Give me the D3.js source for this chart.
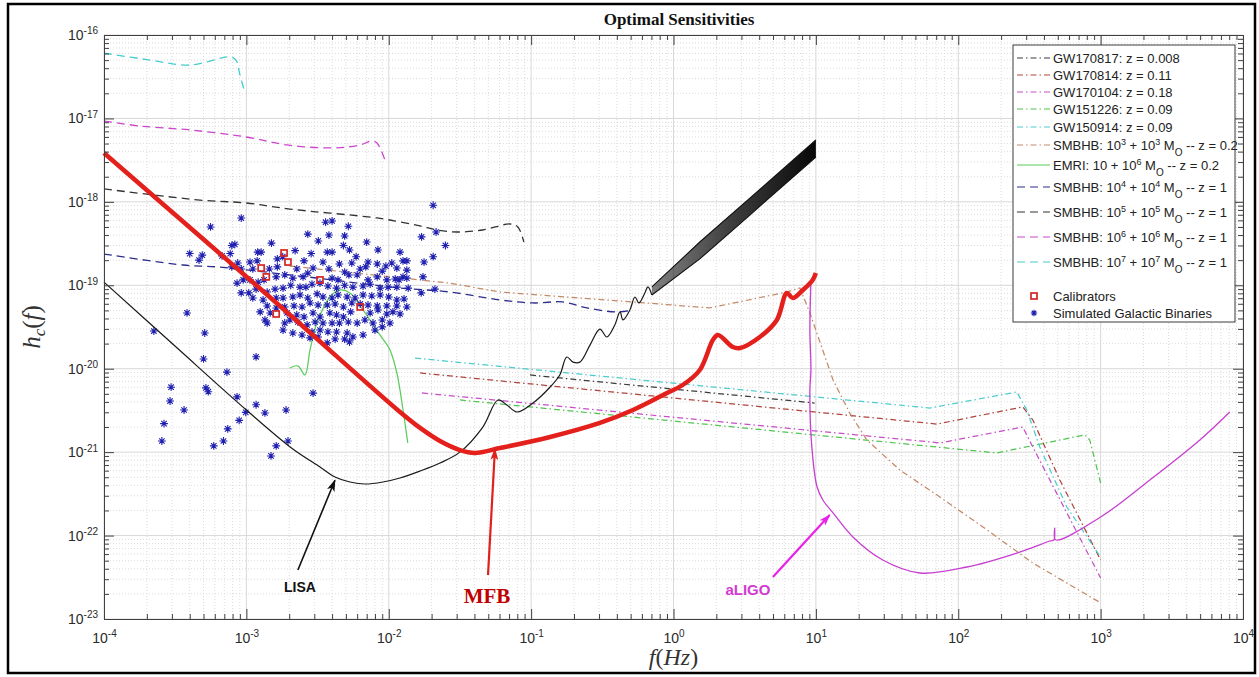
<!DOCTYPE html>
<html>
<head>
<meta charset="utf-8">
<script src="https://cdn.jsdelivr.net/npm/d3@7"></script>
<style>
  body { margin: 0; background: #fff; }
  text { font-family: "Liberation Sans", Arial, sans-serif; white-space: pre; }
</style>
</head>
<body>
<div id="chart"></div>
<script>
// ---- data: [frequency (Hz), characteristic strain] ----

const xDecades = [1e-4, 1e-3, 1e-2, 1e-1, 1e0, 1e1, 1e2, 1e3, 1e4];
const yDecades = [1e-23, 1e-22, 1e-21, 1e-20, 1e-19, 1e-18, 1e-17, 1e-16];

const gw170817 = [[9.82e-2, 8.41e-21], [9.8, 3.88e-21]];
const gw170814 = [[1.66e-2, 8.89e-21], [70.8, 2.17e-21], [284, 3.48e-21], [334, 2.43e-21], [517, 4.64e-22], [1000, 5.09e-23]];
const gw170104 = [[1.71e-2, 5.12e-21], [74.3, 1.29e-21], [284, 2.0e-21], [334, 1.15e-21], [579, 1.87e-22], [1000, 3.1e-23]];
const gw151226 = [[3.16e-2, 4.22e-21], [187, 9.77e-22], [774, 1.61e-21], [839, 1.4e-21], [1000, 4.27e-22]];
const gw150914 = [[1.53e-2, 1.34e-20], [63.2, 3.38e-21], [258, 5.26e-21], [303, 3.2e-21], [374, 1.15e-21], [579, 2.2e-22], [1000, 5.53e-23]];

const smbhb3 = [[2.02e-3, 1.7e-19], [2.69e-2, 1.06e-19], [6.04e-2, 8.31e-20], [0.519, 6.31e-20], [1.8, 5.35e-20],
  [6.25, 8.31e-20], [7.72, 9.29e-20], [9.08, 4.66e-20], [13.2, 7.33e-21], [17.3, 2.94e-21], [22.8, 1.4e-21],
  [38.9, 6.1e-22], [74.3, 2.9e-22], [149, 1.27e-22], [334, 4.69e-23], [1000, 1.56e-23]];
const emri = [[2.02e-3, 1.02e-20], [2.3e-3, 1.08e-20], [2.58e-3, 8.41e-21], [2.8e-3, 1.68e-20], [3.13e-3, 3.53e-20],
  [3.86e-3, 7.24e-20], [4.54e-3, 8.79e-20], [5.34e-3, 8.09e-20], [6.59e-3, 5.06e-20], [8.67e-3, 2.54e-20],
  [1.02e-2, 1.68e-20], [1.14e-2, 8.89e-21], [1.26e-2, 3.2e-21], [1.36e-2, 1.29e-21]];
const smbhb4 = [[1e-4, 2.37e-19], [3.59e-4, 1.75e-19], [6.23e-4, 1.66e-19], [2.38e-3, 1.29e-19], [1.2e-2, 9.29e-20],
  [2.69e-2, 8.31e-20], [6.04e-2, 6.67e-20], [0.103, 6.14e-20], [0.167, 6.31e-20], [0.247, 5.35e-20],
  [0.401, 4.79e-20], [0.519, 5.06e-20]];
const smbhb5 = [[1e-4, 1.43e-18], [4.72e-4, 1.05e-18], [1e-3, 9.69e-19], [2.02e-3, 8.2e-19], [8.26e-3, 6.41e-19],
  [1.2e-2, 5.74e-19], [1.66e-2, 5.14e-19], [2.18e-2, 4.6e-19], [3.01e-2, 4.35e-19], [4.58e-2, 4.6e-19],
  [7.1e-2, 5.43e-19], [8.07e-2, 5.0e-19], [8.89e-2, 3.3e-19]];
const smbhb6 = [[1e-4, 9.31e-18], [1.79e-4, 8.11e-18], [4.02e-4, 7.27e-18], [1e-3, 5.99e-18], [1.93e-3, 4.81e-18],
  [4.06e-3, 4.43e-18], [6.28e-3, 4.81e-18], [7.62e-3, 5.36e-18], [8.26e-3, 5.08e-18], [9.4e-3, 3.18e-18]];
const smbhb7 = [[1e-4, 6.08e-17], [2.1e-4, 5.01e-17], [4.02e-4, 4.37e-17], [7.67e-4, 5.45e-17], [8.45e-4, 5.01e-17],
  [9.01e-4, 3.32e-17], [9.77e-4, 2.02e-17]];

// detector curves
const mfbCurve = [[1e-4, 3.85e-18], [1.54e-3, 6.67e-20], [1.2e-2, 3.03e-21], [1.66e-2, 1.95e-21], [2.29e-2, 1.36e-21],
  [3.16e-2, 1.06e-21], [4.03e-2, 9.8e-22], [6.04e-2, 1.12e-21], [0.136, 1.52e-21], [0.304, 2.24e-21],
  [0.519, 3.2e-21], [0.9, 5.12e-21], [1.16, 6.38e-21], [1.53, 9.66e-21], [1.89, 2.21e-20], [2.05, 2.54e-20],
  [2.61, 1.82e-20], [2.93, 1.77e-20], [4.04, 2.4e-20], [5.32, 3.84e-20], [6.25, 8.09e-20], [6.89, 7.05e-20],
  [8.11, 8.79e-20], [9.5, 1.16e-19], [10, 1.4e-19]];
const lisaCurve = [[1e-4, 1.09e-19], [3.15e-4, 1.87e-20], [1e-3, 3.2e-21], [2.12e-3, 1.09e-21], [3.29e-3, 6.64e-22],
  [4.19e-3, 5.04e-22], [5.34e-3, 4.39e-22], [6.81e-3, 4.15e-22], [9.1e-3, 4.39e-22], [1.2e-2, 4.9e-22],
  [1.66e-2, 5.94e-22], [2.29e-2, 7.41e-22], [3.16e-2, 1.0e-21], [4.58e-2, 2.0e-21], [5.85e-2, 4.22e-21],
  [6.76e-2, 3.67e-21], [7.94e-2, 3.03e-21], [0.103, 3.88e-21], [0.136, 6.04e-21], [0.159, 8.41e-21],
  [0.178, 1.38e-20], [0.197, 1.2e-20], [0.22, 1.2e-20], [0.259, 1.92e-20], [0.304, 2.99e-20], [0.34, 2.4e-20],
  [0.387, 3.34e-20], [0.421, 4.79e-20], [0.442, 3.84e-20], [0.494, 5.06e-20], [0.536, 7.24e-20],
  [0.571, 6.14e-20], [0.629, 8.09e-20], [0.661, 9.55e-20], [0.705, 7.65e-20]];
// dense oscillating tail of LISA: [f, lower envelope, upper envelope]
const lisaBand = [[0.705, 7.65e-20, 9.55e-20], [1.53, 2.07e-19, 3.3e-19], [3.44, 6.95e-19, 1.11e-18], [10, 3.45e-18, 5.51e-18]];
const aligoCurve = [[9.23, 1.09e-19], [9.08, 2.91e-20], [9.23, 9.66e-21], [9.08, 5.56e-21], [9.37, 1.15e-21],
  [10.2, 3.82e-22], [11.2, 2.67e-22], [13.2, 1.87e-22], [18.2, 9.62e-23], [29.5, 5.09e-23], [53.7, 3.56e-23],
  [115, 4.2e-23], [258, 6.18e-23], [440, 8.61e-23], [470, 8.9e-23], [476, 1.23e-22], [482, 8.9e-23],
  [1000, 1.67e-22], [2218, 4.64e-22], [4977, 1.4e-21], [8072, 3.03e-21]];

const calibrators = [[1.84e-3, 2.44e-19], [1.96e-3, 1.9e-19], [1.27e-3, 1.61e-19], [1.38e-3, 1.26e-19],
  [3.29e-3, 1.16e-19], [6.3e-3, 5.5e-20], [1.62e-3, 4.53e-20]];

const galacticBinaries = [
  [9.2e-4, 6.4e-19], [5.6e-4, 5.0e-19], [2.05e-2, 9.1e-19], [4.0e-3, 5.9e-19], [3.6e-3, 5.7e-19], [5.2e-3, 5.1e-19],
  [2.7e-3, 4.1e-19], [3.8e-3, 4.0e-19], [3.2e-3, 3.4e-19], [4.9e-3, 3.9e-19], [7.0e-3, 3.3e-19], [1.7e-2, 3.8e-19],
  [2.15e-2, 4.35e-19], [2.5e-2, 3.0e-19], [1.5e-3, 3.2e-19], [7.9e-4, 3.0e-19], [8.3e-4, 3.1e-19], [4.0e-4, 2.4e-19],
  [4.9e-4, 2.3e-19], [4.65e-4, 2.0e-19], [6.75e-4, 2.25e-19], [7.7e-4, 2.4e-19], [1.2e-3, 2.5e-19], [1.27e-3, 2.5e-19],
  [2.2e-3, 2.6e-19], [2.85e-3, 2.4e-19], [3.7e-3, 2.5e-19], [4.0e-3, 2.5e-19], [4.8e-3, 3.0e-19], [5.3e-3, 2.65e-19],
  [8.4e-3, 2.65e-19], [1.2e-2, 2.5e-19], [2.05e-2, 2.2e-19], [1.77e-2, 1.9e-19], [8.7e-4, 1.85e-19], [1.06e-3, 1.9e-19],
  [1.19e-3, 1.96e-19], [1.65e-3, 2.07e-19], [1.8e-3, 2.2e-19], [2.54e-3, 1.96e-19], [3.45e-3, 1.9e-19], [4.5e-3, 1.8e-19],
  [5.5e-3, 1.85e-19], [5.9e-3, 2.2e-19], [7.15e-3, 1.9e-19], [8.3e-3, 1.8e-19], [9.55e-3, 1.7e-19], [1.05e-2, 1.85e-19],
  [1.26e-2, 1.96e-19], [1.34e-2, 1.96e-19], [7.9e-4, 1.66e-19], [9.2e-4, 1.57e-19], [1.11e-3, 1.57e-19], [1.45e-3, 1.57e-19],
  [1.65e-3, 1.66e-19], [2.26e-3, 1.57e-19], [2.94e-3, 1.61e-19], [3.8e-3, 1.57e-19], [4.9e-3, 1.44e-19], [6.3e-3, 1.57e-19],
  [6.9e-3, 1.66e-19], [9.0e-3, 1.48e-19], [1.14e-2, 1.61e-19], [1.34e-2, 1.52e-19], [1.74e-2, 1.26e-19], [1.26e-2, 1.26e-19],
  [8.6e-4, 1.06e-19], [9.5e-4, 1.16e-19], [1.06e-3, 1.16e-19], [1.21e-3, 1.09e-19], [1.33e-3, 1.16e-19], [1.62e-3, 1.26e-19],
  [1.86e-3, 1.33e-19], [2.12e-3, 1.22e-19], [2.5e-3, 1.26e-19], [2.7e-3, 1.4e-19], [4.0e-3, 1.22e-19], [4.4e-3, 1.16e-19],
  [5.25e-3, 1.33e-19], [6.0e-3, 1.33e-19], [7.15e-3, 1.16e-19], [8.3e-3, 1.26e-19], [9.7e-3, 1.16e-19], [1.11e-2, 1.19e-19],
  [1.18e-2, 1.16e-19], [1.34e-2, 1.22e-19], [2.11e-2, 9.0e-20], [1.69e-2, 8.1e-20], [9.2e-4, 8.1e-20], [1.04e-3, 8.1e-20],
  [1.17e-3, 9.0e-20], [1.4e-3, 8.3e-20], [1.59e-3, 9.0e-20], [1.81e-3, 9.25e-20], [2.05e-3, 1.0e-19], [2.38e-3, 9.5e-20],
  [2.62e-3, 9.5e-20], [2.89e-3, 1.03e-19], [3.29e-3, 1.06e-19], [3.74e-3, 9.8e-20], [4.3e-3, 9.25e-20], [4.9e-3, 1.0e-19],
  [5.6e-3, 9.5e-20], [6.6e-3, 9.8e-20], [7.4e-3, 1.03e-19], [8.7e-3, 9.25e-20], [9.9e-3, 9.5e-20], [1.14e-2, 9.5e-20],
  [1.37e-2, 9.25e-20], [1.11e-3, 7.05e-20], [1.31e-3, 6.67e-20], [1.62e-3, 7.05e-20], [1.81e-3, 7.05e-20], [2.12e-3, 7.24e-20],
  [2.38e-3, 7.65e-20], [2.7e-3, 7.05e-20], [3.14e-3, 7.9e-20], [3.45e-3, 7.24e-20], [4.0e-3, 7.05e-20], [4.4e-3, 7.65e-20],
  [5.1e-3, 7.24e-20], [5.8e-3, 7.05e-20], [6.6e-3, 7.65e-20], [7.6e-3, 7.45e-20], [8.7e-3, 7.65e-20], [1.0e-2, 7.24e-20],
  [1.14e-2, 6.67e-20], [1.28e-2, 6.86e-20], [1.4e-3, 5.65e-20], [1.62e-3, 5.35e-20], [1.86e-3, 5.5e-20], [2.16e-3, 5.65e-20],
  [2.46e-3, 5.5e-20], [2.8e-3, 6.14e-20], [3.19e-3, 5.8e-20], [3.7e-3, 5.8e-20], [4.2e-3, 5.97e-20], [4.8e-3, 5.5e-20],
  [5.5e-3, 6.14e-20], [6.3e-3, 5.97e-20], [7.15e-3, 5.8e-20], [8.3e-3, 5.65e-20], [9.7e-3, 5.65e-20], [1.14e-2, 5.65e-20],
  [1.34e-2, 5.5e-20], [1.25e-3, 4.8e-20], [1.47e-3, 4.66e-20], [1.93e-3, 4.66e-20], [2.26e-3, 4.41e-20], [2.54e-3, 4.17e-20],
  [2.94e-3, 4.66e-20], [3.29e-3, 4.17e-20], [3.86e-3, 4.66e-20], [4.3e-3, 4.41e-20], [4.8e-3, 4.17e-20], [5.4e-3, 4.8e-20],
  [7.4e-3, 4.66e-20], [8.4e-3, 5.06e-20], [9.7e-3, 4.53e-20], [1.07e-2, 4.8e-20], [1.2e-2, 4.53e-20], [1.35e-3, 3.84e-20],
  [1.4e-3, 3.53e-20], [1.86e-3, 3.53e-20], [2.02e-3, 3.84e-20], [2.3e-3, 3.63e-20], [2.67e-3, 3.35e-20], [3.04e-3, 3.63e-20],
  [3.45e-3, 3.53e-20], [4.0e-3, 3.53e-20], [4.5e-3, 3.53e-20], [5.2e-3, 3.63e-20], [6.0e-3, 3.53e-20], [6.8e-3, 3.84e-20],
  [7.75e-3, 3.53e-20], [9.0e-3, 3.84e-20], [1.02e-2, 3.53e-20], [1.81e-3, 2.91e-20], [2.12e-3, 2.68e-20], [2.46e-3, 2.54e-20],
  [2.89e-3, 2.76e-20], [3.29e-3, 2.91e-20], [3.74e-3, 2.76e-20], [4.3e-3, 2.76e-20], [5.1e-3, 2.68e-20], [5.6e-3, 2.4e-20],
  [6.6e-3, 2.54e-20], [8.0e-3, 2.91e-20], [9.0e-3, 3.17e-20], [2.8e-3, 2.34e-20], [3.19e-3, 2.4e-20], [3.7e-3, 2.04e-20],
  [4.2e-3, 2.27e-20], [4.9e-3, 2.27e-20], [5.3e-3, 2.09e-20],
  // scattered low-strain binaries
  [2.24e-4, 2.83e-20], [3.83e-4, 4.66e-20], [5.1e-4, 2.68e-20], [5.0e-4, 1.31e-20], [7.3e-4, 9.1e-21], [1.17e-3, 1.39e-20],
  [2.96e-4, 6.0e-21], [2.91e-4, 4.1e-21], [3.65e-4, 3.2e-21], [2.64e-4, 2.2e-21], [2.55e-4, 1.36e-21], [5.2e-4, 5.9e-21],
  [5.4e-4, 5.3e-21], [8.6e-4, 4.6e-21], [9.9e-4, 3.0e-21], [1.17e-3, 3.7e-21], [1.35e-3, 2.95e-21], [1.9e-3, 3.2e-21],
  [8.9e-4, 2.4e-21], [7.4e-4, 1.9e-21], [6.9e-4, 1.36e-21], [5.9e-4, 1.19e-21], [1.62e-3, 1.19e-21], [1.96e-3, 1.36e-21],
  [1.49e-3, 9.0e-22], [2.94e-3, 5.1e-21]
];

// annotations: [f, h] of arrow tail, arrow tip and label
const annotations = [
  { label: "LISA", color: "#111", arrowColor: "#111", font: "bold 14px 'Liberation Sans'", tail: [2.3e-3, 3.87e-23], tip: [4.19e-3, 4.6e-22], at: [2.38e-3, 2.1e-23] },
  { label: "MFB", color: "#c00000", arrowColor: "#e0201c", font: "bold 21px 'Liberation Serif'", tail: [4.98e-2, 3.37e-23], tip: [5.57e-2, 1.09e-21], at: [4.9e-2, 1.56e-23] },
  { label: "aLIGO", color: "#d23bd2", arrowColor: "#e822e8", font: "bold 15px 'Liberation Sans'", tail: [4.99, 3.19e-23], tip: [12.5, 1.77e-22], at: [3.33, 1.94e-23] }
];

// ---- styles and legend ----
const dashDot = "6,3,1.5,3";
const dashed = "8,5";
const seriesStyles = [
  { data: gw170817, label: "GW170817: z = 0.008", color: "#3c3c3c", dash: dashDot },
  { data: gw170814, label: "GW170814: z = 0.11", color: "#b0443c", dash: dashDot },
  { data: gw170104, label: "GW170104: z = 0.18", color: "#c64ec6", dash: dashDot },
  { data: gw151226, label: "GW151226: z = 0.09", color: "#52c452", dash: dashDot },
  { data: gw150914, label: "GW150914: z = 0.09", color: "#4ccccc", dash: dashDot },
  { data: smbhb3, label: "SMBHB: 10^{3} + 10^{3} M_{O} -- z = 0.2", color: "#c48a68", dash: dashDot },
  { data: emri, label: "EMRI: 10 + 10^{6} M_{O} -- z = 0.2", color: "#5acc5a", dash: null },
  { data: smbhb4, label: "SMBHB: 10^{4} + 10^{4} M_{O} -- z = 1", color: "#2c2c8c", dash: dashed },
  { data: smbhb5, label: "SMBHB: 10^{5} + 10^{5} M_{O} -- z = 1", color: "#333333", dash: dashed },
  { data: smbhb6, label: "SMBHB: 10^{6} + 10^{6} M_{O} -- z = 1", color: "#cc46cc", dash: dashed },
  { data: smbhb7, label: "SMBHB: 10^{7} + 10^{7} M_{O} -- z = 1", color: "#46cccc", dash: dashed }
];
const legendRows = [58, 75, 92, 109, 127, 145, 165, 187, 212, 237, 262, 296, 313];

const svgWidth = 1259;
const svgHeight = 677;
const margin = { top: 35, right: 16, bottom: 58, left: 104 };
const width = svgWidth - margin.left - margin.right;
const height = svgHeight - margin.top - margin.bottom;

const svg = d3.select("#chart")
  .append("svg")
  .attr("width", svgWidth)
  .attr("height", svgHeight);

// outer frame of the figure
svg.append("rect")
  .attr("x", 8).attr("y", 4)
  .attr("width", 1247).attr("height", 669)
  .attr("fill", "#fff").attr("stroke", "#000").attr("stroke-width", 2.5);

const chart = svg.append("g")
  .attr("transform", `translate(${margin.left}, ${margin.top})`);

const x = d3.scaleLog().domain([1e-4, 1e4]).range([0, width]);
const y = d3.scaleLog().domain([1e-23, 1e-16]).range([height, 0]);

const isDecade = v => Math.abs(Math.log10(v) - Math.round(Math.log10(v))) < 1e-6;
const xMinor = x.ticks().filter(v => !isDecade(v));
const yMinor = y.ticks().filter(v => !isDecade(v));

// grid
const grid = chart.append("g");
grid.selectAll(".gx-minor").data(xMinor).enter().append("line")
  .attr("x1", d => x(d)).attr("x2", d => x(d)).attr("y1", 0).attr("y2", height)
  .attr("stroke", "#dcdcdc").attr("stroke-dasharray", "1,2");
grid.selectAll(".gy-minor").data(yMinor).enter().append("line")
  .attr("y1", d => y(d)).attr("y2", d => y(d)).attr("x1", 0).attr("x2", width)
  .attr("stroke", "#dcdcdc").attr("stroke-dasharray", "1,2");
grid.selectAll(".gx").data(xDecades).enter().append("line")
  .attr("x1", d => x(d)).attr("x2", d => x(d)).attr("y1", 0).attr("y2", height)
  .attr("stroke", "#d8d8d8");
grid.selectAll(".gy").data(yDecades).enter().append("line")
  .attr("y1", d => y(d)).attr("y2", d => y(d)).attr("x1", 0).attr("x2", width)
  .attr("stroke", "#d8d8d8");

const line = d3.line().x(d => x(d[0])).y(d => y(d[1]));
const smooth = d3.line().x(d => x(d[0])).y(d => y(d[1])).curve(d3.curveCatmullRom.alpha(0.5));

// source curves
seriesStyles.forEach(s => {
  chart.append("path")
    .datum(s.data)
    .attr("d", s.dash === dashDot ? line : smooth)
    .attr("fill", "none")
    .attr("stroke", s.color)
    .attr("stroke-width", s.dash === dashed ? 1.3 : 1.25)
    .attr("stroke-dasharray", s.dash);
});

// asterisk marker like matlab '*'
const starPath = r => `M${-r},0H${r}M0,${-r}V${r}M${-r * 0.7},${-r * 0.7}L${r * 0.7},${r * 0.7}M${-r * 0.7},${r * 0.7}L${r * 0.7},${-r * 0.7}`;

chart.selectAll(".binary")
  .data(galacticBinaries)
  .enter()
  .append("path")
  .attr("transform", d => `translate(${x(d[0])}, ${y(d[1])})`)
  .attr("d", starPath(3.9))
  .attr("stroke", "#1f1fb0")
  .attr("stroke-width", 1.1)
  .attr("fill", "none");

chart.selectAll(".calibrator")
  .data(calibrators)
  .enter()
  .append("rect")
  .attr("x", d => x(d[0]) - 3)
  .attr("y", d => y(d[1]) - 3)
  .attr("width", 6).attr("height", 6)
  .attr("fill", "none")
  .attr("stroke", "#d42626")
  .attr("stroke-width", 1.7);

// LISA
chart.append("path")
  .datum(lisaCurve)
  .attr("d", smooth)
  .attr("fill", "none").attr("stroke", "#1a1a1a").attr("stroke-width", 1.2);

const defs = svg.append("defs");
const bandGrad = defs.append("linearGradient")
  .attr("id", "bandGrad")
  .attr("x1", "0%").attr("x2", "100%").attr("y1", "0%").attr("y2", "0%");
bandGrad.append("stop").attr("offset", "0%").attr("stop-color", "#1a1a1a").attr("stop-opacity", 0.55);
bandGrad.append("stop").attr("offset", "50%").attr("stop-color", "#111").attr("stop-opacity", 0.82);
bandGrad.append("stop").attr("offset", "100%").attr("stop-color", "#000").attr("stop-opacity", 0.97);

chart.append("path")
  .datum(lisaBand)
  .attr("d", d3.area().x(d => x(d[0])).y0(d => y(d[1])).y1(d => y(d[2])))
  .attr("fill", "url(#bandGrad)")
  .attr("stroke", "none");
chart.append("path")
  .datum(lisaBand.map(d => [d[0], d[2]]))
  .attr("d", line)
  .attr("fill", "none").attr("stroke", "#111").attr("stroke-width", 1.1);
chart.append("path")
  .datum(lisaBand.map(d => [d[0], d[1]]))
  .attr("d", line)
  .attr("fill", "none").attr("stroke", "#111").attr("stroke-width", 1.1);

// aLIGO
chart.append("path")
  .datum(aligoCurve)
  .attr("d", smooth)
  .attr("fill", "none").attr("stroke", "#c63fd0").attr("stroke-width", 1.3);

// MFB
chart.append("path")
  .datum(mfbCurve)
  .attr("d", smooth)
  .attr("fill", "none").attr("stroke", "#e3201c").attr("stroke-width", 4.5)
  .attr("stroke-linejoin", "round");

// axes: inside ticks on all four sides
const axisColor = "#404040";
function styleAxis(g) {
  g.select(".domain").attr("stroke", axisColor);
  g.selectAll(".tick line").attr("stroke", axisColor);
}

const xAxisBottom = chart.append("g")
  .attr("transform", `translate(0, ${height})`)
  .call(d3.axisBottom(x).tickValues(xDecades).tickSize(-10).tickSizeOuter(0).tickPadding(14).tickFormat(() => ""))
  .call(styleAxis);
chart.append("g").attr("transform", `translate(0, ${height})`)
  .call(d3.axisBottom(x).tickValues(xMinor).tickSize(-5).tickSizeOuter(0).tickFormat(""))
  .call(styleAxis);
chart.append("g")
  .call(d3.axisTop(x).tickValues(xDecades).tickSize(-10).tickSizeOuter(0).tickFormat(""))
  .call(styleAxis);
chart.append("g")
  .call(d3.axisTop(x).tickValues(xMinor).tickSize(-5).tickSizeOuter(0).tickFormat(""))
  .call(styleAxis);

const yAxisLeft = chart.append("g")
  .call(d3.axisLeft(y).tickValues(yDecades).tickSize(-10).tickSizeOuter(0).tickPadding(6).tickFormat(() => ""))
  .call(styleAxis);
chart.append("g")
  .call(d3.axisLeft(y).tickValues(yMinor).tickSize(-5).tickSizeOuter(0).tickFormat(""))
  .call(styleAxis);
chart.append("g").attr("transform", `translate(${width}, 0)`)
  .call(d3.axisRight(y).tickValues(yDecades).tickSize(-10).tickSizeOuter(0).tickFormat(""))
  .call(styleAxis);
chart.append("g").attr("transform", `translate(${width}, 0)`)
  .call(d3.axisRight(y).tickValues(yMinor).tickSize(-5).tickSizeOuter(0).tickFormat(""))
  .call(styleAxis);

// power-of-ten tick labels
function powerLabel(sel) {
  sel.each(function (d) {
    const t = d3.select(this).text(null)
      .attr("fill", "#2a2a2a")
      .attr("font-size", "14px")
      .attr("font-family", "'Liberation Sans', Arial, sans-serif");
    t.append("tspan").text("10");
    t.append("tspan").attr("dy", "-0.55em").attr("font-size", "10px").text(Math.round(Math.log10(d)));
  });
}
xAxisBottom.selectAll(".tick text").call(powerLabel);
yAxisLeft.selectAll(".tick text").call(powerLabel);

// annotations with arrows
annotations.forEach((a, i) => {
  defs.append("marker")
    .attr("id", `arrow${i}`)
    .attr("markerUnits", "userSpaceOnUse")
    .attr("viewBox", "0 0 12 8")
    .attr("markerWidth", 12).attr("markerHeight", 8)
    .attr("refX", 11).attr("refY", 4)
    .attr("orient", "auto")
    .append("path")
    .attr("d", "M0,0L12,4L0,8L3,4Z")
    .attr("fill", a.arrowColor);

  chart.append("line")
    .attr("x1", x(a.tail[0])).attr("y1", y(a.tail[1]))
    .attr("x2", x(a.tip[0])).attr("y2", y(a.tip[1]))
    .attr("stroke", a.arrowColor)
    .attr("stroke-width", i === 0 ? 1.6 : 2.2)
    .attr("marker-end", `url(#arrow${i})`);

  chart.append("text")
    .attr("x", x(a.at[0])).attr("y", y(a.at[1]))
    .attr("text-anchor", "middle")
    .style("font", a.font)
    .attr("fill", a.color)
    .text(a.label);
});

// legend
const legend = svg.append("g");
legend.append("rect")
  .attr("x", 1013).attr("y", 45)
  .attr("width", 222).attr("height", 277)
  .attr("fill", "#fff").attr("stroke", "#3a3a3a").attr("stroke-width", 1);

function richText(sel, str) {
  const parts = str.split(/(\^\{[^}]*\}|_\{[^}]*\})/).filter(p => p.length);
  let shift = 0;
  parts.forEach(p => {
    let target = 0;
    let txt = p;
    let size = null;
    if (p.startsWith("^{")) { target = -5; txt = p.slice(2, -1); size = "9px"; }
    else if (p.startsWith("_{")) { target = 6; txt = p.slice(2, -1); size = "10px"; }
    const t = sel.append("tspan").attr("dy", target - shift).text(txt);
    if (size) t.attr("font-size", size);
    shift = target;
  });
}

seriesStyles.forEach((s, i) => {
  const ly = legendRows[i];
  legend.append("line")
    .attr("x1", 1017).attr("x2", 1050).attr("y1", ly).attr("y2", ly)
    .attr("stroke", s.color).attr("stroke-width", 1.2)
    .attr("stroke-dasharray", s.dash);
  legend.append("text")
    .attr("x", 1053).attr("y", ly + 4.5)
    .attr("font-size", "13px").attr("fill", "#222")
    .call(richText, s.label);
});

legend.append("rect")
  .attr("x", 1031).attr("y", legendRows[11] - 3)
  .attr("width", 6).attr("height", 6)
  .attr("fill", "none").attr("stroke", "#d42626").attr("stroke-width", 1.7);
legend.append("text")
  .attr("x", 1053).attr("y", legendRows[11] + 4.5)
  .attr("font-size", "13px").attr("fill", "#222").text("Calibrators");
legend.append("path")
  .attr("transform", `translate(1034, ${legendRows[12]})`)
  .attr("d", starPath(3.2))
  .attr("stroke", "#1f1fb0").attr("stroke-width", 1.1);
legend.append("text")
  .attr("x", 1053).attr("y", legendRows[12] + 4.5)
  .attr("font-size", "13px").attr("fill", "#222").text("Simulated Galactic Binaries");

// title and axis labels
svg.append("text")
  .attr("x", 679).attr("y", 25)
  .attr("text-anchor", "middle")
  .style("font", "bold 17px 'Liberation Serif', serif")
  .attr("fill", "#111")
  .text("Optimal Sensitivities");

const yLabel = svg.append("text")
  .attr("transform", `translate(40, ${margin.top + height / 2}) rotate(-90)`)
  .attr("text-anchor", "middle")
  .style("font-family", "'Liberation Serif', serif")
  .attr("font-size", "25px")
  .attr("fill", "#333");
yLabel.append("tspan").attr("font-style", "italic").text("h");
yLabel.append("tspan").attr("font-style", "italic").attr("font-size", "17px").attr("dy", 5).text("c");
yLabel.append("tspan").attr("dy", -5).text("(");
yLabel.append("tspan").attr("font-style", "italic").text("f");
yLabel.append("tspan").text(")");

const xLabel = svg.append("text")
  .attr("x", margin.left + width / 2).attr("y", 665)
  .attr("text-anchor", "middle")
  .style("font-family", "'Liberation Serif', serif")
  .attr("font-size", "24px")
  .attr("fill", "#333");
xLabel.append("tspan").attr("font-style", "italic").text("f");
xLabel.append("tspan").text("(");
xLabel.append("tspan").attr("font-style", "italic").text("Hz");
xLabel.append("tspan").text(")");
</script>
</body>
</html>
